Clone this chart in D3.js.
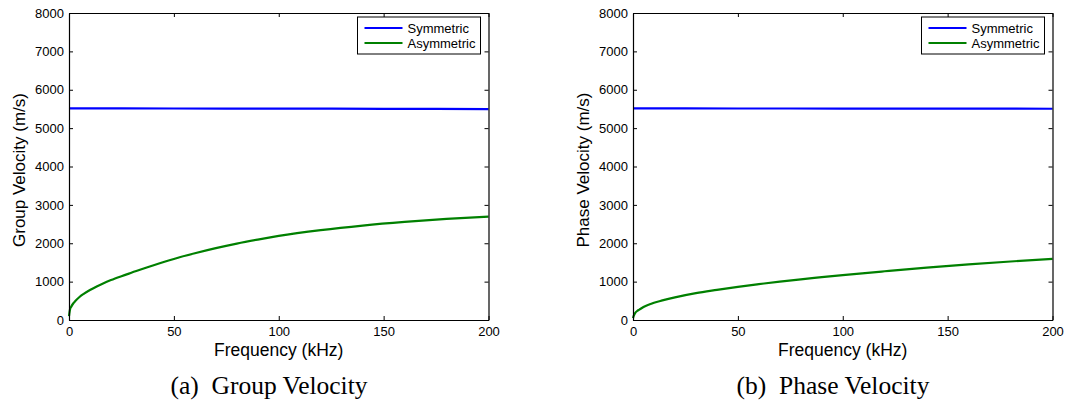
<!DOCTYPE html>
<html>
<head>
<meta charset="utf-8">
<script src="https://cdn.jsdelivr.net/npm/d3@7"></script>
<style>
  body { margin: 0; background: #fff; }
  svg { display: block; }
</style>
</head>
<body>
<div id="chart"></div>
<script>
"use strict";
// frequency grid (kHz)
var freqSym = [0, 50, 100, 150, 200];
var freqGroup = [0, 0.5, 1, 2, 3, 5, 7, 10, 15, 20, 25, 30, 40, 50, 60, 70, 80, 90, 100, 120, 140, 160, 180, 200];
var freqPhase = [0, 0.5, 1, 2, 3, 5, 8, 10, 14, 20, 30, 40, 50, 60, 70, 80, 90, 100, 120, 140, 160, 180, 200];
// velocities (m/s)
var groupSym = [5515, 5512, 5508, 5503, 5497];
var groupAsym = [100, 280, 340, 430, 495, 600, 680, 781, 920, 1040, 1142, 1236, 1421, 1591, 1738, 1872, 1992, 2096, 2190, 2340, 2460, 2556, 2634, 2694];
var phaseSym = [5515, 5512, 5510, 5507, 5505];
var phaseAsym = [50, 130, 180, 235, 270, 340, 410, 450, 510, 590, 700, 785, 865, 935, 1000, 1060, 1115, 1170, 1270, 1365, 1450, 1525, 1595];
var xTicks = [0, 50, 100, 150, 200];
var yTicks = [0, 1000, 2000, 3000, 4000, 5000, 6000, 7000, 8000];
var seriesNames = ["Symmetric", "Asymmetric"];
var seriesColors = ["#0000ff", "#008000"];

var W = 1065, H = 408;
var svg = d3.select("#chart").append("svg")
    .attr("width", W)
    .attr("height", H)
    .attr("xmlns", "http://www.w3.org/2000/svg");

function zip(xs, ys) {
    return xs.map(function (x, i) { return { x: x, y: ys[i] }; });
}

function drawPanel(p) {
    var x = d3.scaleLinear().domain([0, 200]).range([p.left, p.right]);
    var y = d3.scaleLinear().domain([0, 8000]).range([320, 13]);
    var g = svg.append("g");

    var line = d3.line()
        .x(function (d) { return x(d.x); })
        .y(function (d) { return y(d.y); })
        .curve(d3.curveMonotoneX);

    g.selectAll("path.series")
        .data(p.series)
        .enter().append("path")
        .attr("class", "series")
        .attr("d", function (s) { return line(s.values); })
        .style("fill", "none")
        .style("stroke", function (s, i) { return seriesColors[i]; })
        .style("stroke-width", 2.2);

    // axes (ticks pointing inward, MATLAB style)
    var fontTick = "Liberation Sans, Arial, sans-serif";
    g.append("g")
        .attr("transform", "translate(0,320)")
        .call(d3.axisBottom(x).tickValues(xTicks).tickSizeInner(-4).tickSizeOuter(0).tickPadding(7))
        .call(styleAxis);
    g.append("g")
        .attr("transform", "translate(0,13)")
        .call(d3.axisTop(x).tickValues(xTicks).tickSizeInner(-4).tickSizeOuter(0).tickFormat(""))
        .call(styleAxis);
    g.append("g")
        .attr("transform", "translate(" + p.left + ",0)")
        .call(d3.axisLeft(y).tickValues(yTicks).tickSizeInner(-4).tickSizeOuter(0).tickPadding(5).tickFormat(d3.format("d")))
        .call(styleAxis);
    g.append("g")
        .attr("transform", "translate(" + p.right + ",0)")
        .call(d3.axisRight(y).tickValues(yTicks).tickSizeInner(-4).tickSizeOuter(0).tickFormat(""))
        .call(styleAxis);

    function styleAxis(sel) {
        sel.select(".domain").style("stroke", "#000").style("stroke-width", 1.2);
        sel.selectAll(".tick line").style("stroke", "#000").style("stroke-width", 1);
        sel.selectAll(".tick text")
            .style("font-family", fontTick)
            .style("font-size", "13px")
            .style("fill", "#000");
    }

    // axis labels
    g.append("text")
        .attr("x", (p.left + p.right) / 2)
        .attr("y", 356)
        .attr("text-anchor", "middle")
        .style("font-family", fontTick)
        .style("font-size", "17.5px")
        .text("Frequency (kHz)");
    g.append("text")
        .attr("transform", "translate(" + (p.left - 44) + "," + 170 + ") rotate(-90)")
        .attr("text-anchor", "middle")
        .style("font-family", fontTick)
        .style("font-size", "17px")
        .text(p.ylabel);

    // legend
    var lx = p.right - 131, ly = 17;
    g.append("rect")
        .attr("x", lx).attr("y", ly)
        .attr("width", 123).attr("height", 37)
        .style("fill", "#fff").style("stroke", "#000").style("stroke-width", 1);
    var items = g.selectAll("g.legend-item")
        .data(seriesNames)
        .enter().append("g")
        .attr("class", "legend-item")
        .attr("transform", function (d, i) { return "translate(" + lx + "," + (ly + 11 + i * 15) + ")"; });
    items.append("line")
        .attr("x1", 7).attr("x2", 45)
        .attr("y1", 0).attr("y2", 0)
        .style("stroke", function (d, i) { return seriesColors[i]; })
        .style("stroke-width", 2.2);
    items.append("text")
        .attr("x", 50).attr("y", 4.5)
        .style("font-family", fontTick)
        .style("font-size", "13px")
        .text(function (d) { return d; });

    // caption
    g.append("text")
        .attr("x", p.captionX)
        .attr("y", 394)
        .attr("text-anchor", "middle")
        .style("font-family", "Liberation Serif, Times New Roman, serif")
        .style("font-size", "25.5px")
        .style("white-space", "pre")
        .attr("xml:space", "preserve")
        .text(p.caption);
}

drawPanel({
    left: 69, right: 488.5,
    ylabel: "Group Velocity (m/s)",
    caption: "(a)  Group Velocity",
    captionX: 269,
    series: [
        { name: seriesNames[0], values: zip(freqSym, groupSym) },
        { name: seriesNames[1], values: zip(freqGroup, groupAsym) }
    ]
});
drawPanel({
    left: 633, right: 1052.5,
    ylabel: "Phase Velocity (m/s)",
    caption: "(b)  Phase Velocity",
    captionX: 833,
    series: [
        { name: seriesNames[0], values: zip(freqSym, phaseSym) },
        { name: seriesNames[1], values: zip(freqPhase, phaseAsym) }
    ]
});
</script>
</body>
</html>
